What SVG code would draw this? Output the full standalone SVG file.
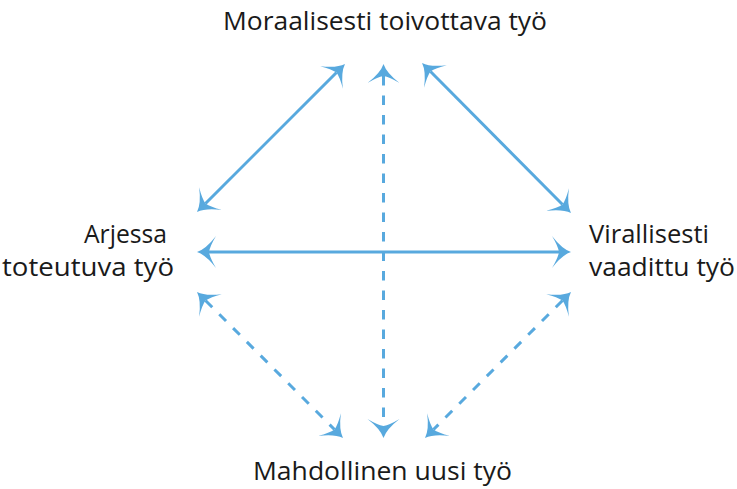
<svg xmlns="http://www.w3.org/2000/svg" width="737" height="489" viewBox="0 0 737 489">
<style>
.lbl{font-family:"Open Sans","Noto Sans","Liberation Sans",sans-serif;font-size:26px;fill:#1a1a1a}
.ln{stroke:#58a9de;stroke-width:3;fill:none}
.dash{stroke-dasharray:9.5 10}
</style>
<defs>
<marker id="ah" markerUnits="userSpaceOnUse" orient="auto-start-reverse" overflow="visible" refX="0" refY="0" markerWidth="1" markerHeight="1">
<path d="M12,0 Q3,-3 -7,-16 Q-1,-6 0,0 Q-1,6 -7,16 Q3,3 12,0 Z" fill="#58a9de"/>
</marker>
</defs>
<rect width="737" height="489" fill="#ffffff"/>
<g id="connectors">
<line class="ln" x1="336.5" y1="72.5" x2="205.5" y2="203.5" marker-start="url(#ah)" marker-end="url(#ah)"/>
<line class="ln" x1="430.5" y1="71.5" x2="562.5" y2="204.5" marker-start="url(#ah)" marker-end="url(#ah)"/>
<line class="ln" x1="209" y1="252" x2="559" y2="252" marker-start="url(#ah)" marker-end="url(#ah)"/>
<line class="ln dash" x1="383.5" y1="76" x2="383.5" y2="426" marker-start="url(#ah)" marker-end="url(#ah)"/>
<line class="ln dash" x1="205.5" y1="300.5" x2="334.5" y2="429.5" marker-start="url(#ah)" marker-end="url(#ah)"/>
<line class="ln dash" x1="562.5" y1="300.5" x2="433.5" y2="429.5" marker-start="url(#ah)" marker-end="url(#ah)"/>
</g>
<g id="node-top"><text class="lbl" x="223" y="30" textLength="324" lengthAdjust="spacingAndGlyphs">Moraalisesti toivottava työ</text></g>
<g id="node-left"><text class="lbl" x="84" y="243" textLength="83" lengthAdjust="spacingAndGlyphs">Arjessa</text><text class="lbl" x="2" y="276" textLength="172" lengthAdjust="spacingAndGlyphs">toteutuva työ</text></g>
<g id="node-right"><text class="lbl" x="589" y="243" textLength="120" lengthAdjust="spacingAndGlyphs">Virallisesti</text><text class="lbl" x="589" y="276" textLength="146" lengthAdjust="spacingAndGlyphs">vaadittu työ</text></g>
<g id="node-bottom"><text class="lbl" x="253" y="480" textLength="259" lengthAdjust="spacingAndGlyphs">Mahdollinen uusi työ</text></g>
</svg>
